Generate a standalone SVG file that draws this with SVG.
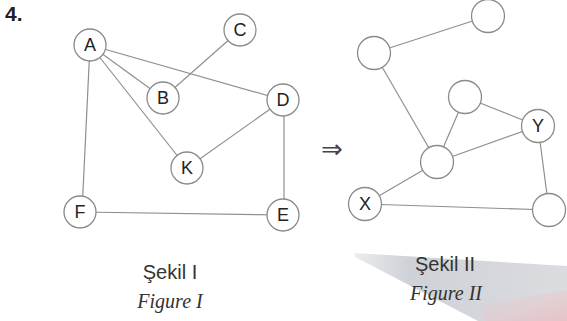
<svg xmlns="http://www.w3.org/2000/svg" width="567" height="321" viewBox="0 0 567 321">
<defs>
<linearGradient id="band" x1="0" y1="0" x2="1" y2="0">
<stop offset="0" stop-color="#cdd0d5" stop-opacity="0.4"/>
<stop offset="0.25" stop-color="#c9ccd2" stop-opacity="0.9"/>
<stop offset="1" stop-color="#d6d8dc" stop-opacity="0.9"/>
</linearGradient>
<linearGradient id="pink" x1="0" y1="0" x2="1" y2="1">
<stop offset="0" stop-color="#f3c9cc" stop-opacity="0"/>
<stop offset="1" stop-color="#f0b0b5" stop-opacity="0.6"/>
</linearGradient>
</defs>
<style>
.n circle{fill:#fff;stroke:#8a8a8a;stroke-width:1.3}
.n text{font-family:"Liberation Sans",Arial,sans-serif;font-size:18px;fill:#222;text-anchor:middle}
#edges line{stroke:#8f8f8f;stroke-width:1.2}
.cap{font-family:"Liberation Sans",Arial,sans-serif;font-size:20px;fill:#333;text-anchor:middle}
.fig{font-family:"Liberation Serif","Times New Roman",serif;font-style:italic;font-size:20px;fill:#333;text-anchor:middle}
</style>
<rect width="567" height="321" fill="#fff"/>
<polygon points="355,253 567,266 567,321 478,321 355,257" fill="url(#band)"/>
<polygon points="480,305 567,290 567,321 485,321" fill="url(#pink)"/>
<text x="5" y="21" font-family="Liberation Sans,Arial,sans-serif" font-weight="bold" font-size="21" fill="#222">4.</text>
<g id="edges">
<line x1="90" y1="45" x2="163" y2="98"/>
<line x1="90" y1="45" x2="283" y2="100"/>
<line x1="90" y1="45" x2="187" y2="168"/>
<line x1="90" y1="45" x2="82" y2="212"/>
<line x1="240" y1="30" x2="163" y2="98"/>
<line x1="283" y1="100" x2="187" y2="168"/>
<line x1="284" y1="100" x2="284" y2="215"/>
<line x1="80" y1="212" x2="283" y2="215"/>
<line x1="488" y1="16" x2="374" y2="53"/>
<line x1="374" y1="53" x2="437" y2="162"/>
<line x1="437" y1="162" x2="465" y2="97"/>
<line x1="465" y1="97" x2="538" y2="126"/>
<line x1="437" y1="162" x2="538" y2="126"/>
<line x1="437" y1="162" x2="365" y2="204"/>
<line x1="365" y1="204" x2="549" y2="210"/>
<line x1="538" y1="126" x2="549" y2="210"/>
</g>
<g id="A" class="n"><circle cx="90" cy="45" r="16"/><text x="90" y="51">A</text></g>
<g id="C" class="n"><circle cx="240" cy="30" r="16"/><text x="240" y="36">C</text></g>
<g id="B" class="n"><circle cx="163" cy="98" r="16"/><text x="163" y="104">B</text></g>
<g id="D" class="n"><circle cx="283" cy="100" r="16"/><text x="283" y="106">D</text></g>
<g id="K" class="n"><circle cx="187" cy="168" r="16"/><text x="187" y="174">K</text></g>
<g id="F" class="n"><circle cx="80" cy="212" r="16"/><text x="80" y="218">F</text></g>
<g id="E" class="n"><circle cx="283" cy="215" r="16"/><text x="283" y="221">E</text></g>
<g id="n1" class="n"><circle cx="488" cy="16" r="16.5"/></g>
<g id="n2" class="n"><circle cx="374" cy="53" r="16.5"/></g>
<g id="n3" class="n"><circle cx="465" cy="97" r="16.5"/></g>
<g id="Y" class="n"><circle cx="538" cy="126" r="16.5"/><text x="538" y="132">Y</text></g>
<g id="n4" class="n"><circle cx="437" cy="162" r="16.5"/></g>
<g id="X" class="n"><circle cx="365" cy="204" r="16.5"/><text x="365" y="210">X</text></g>
<g id="n5" class="n"><circle cx="549" cy="210" r="16.5"/></g>
<text x="332" y="158" font-family="DejaVu Sans,sans-serif" font-size="26" fill="#444" text-anchor="middle">⇒</text>
<text class="cap" x="170" y="279">Şekil I</text>
<text class="fig" x="170" y="308">Figure I</text>
<text class="cap" x="445" y="271">Şekil II</text>
<text class="fig" x="446" y="300">Figure II</text>
</svg>
